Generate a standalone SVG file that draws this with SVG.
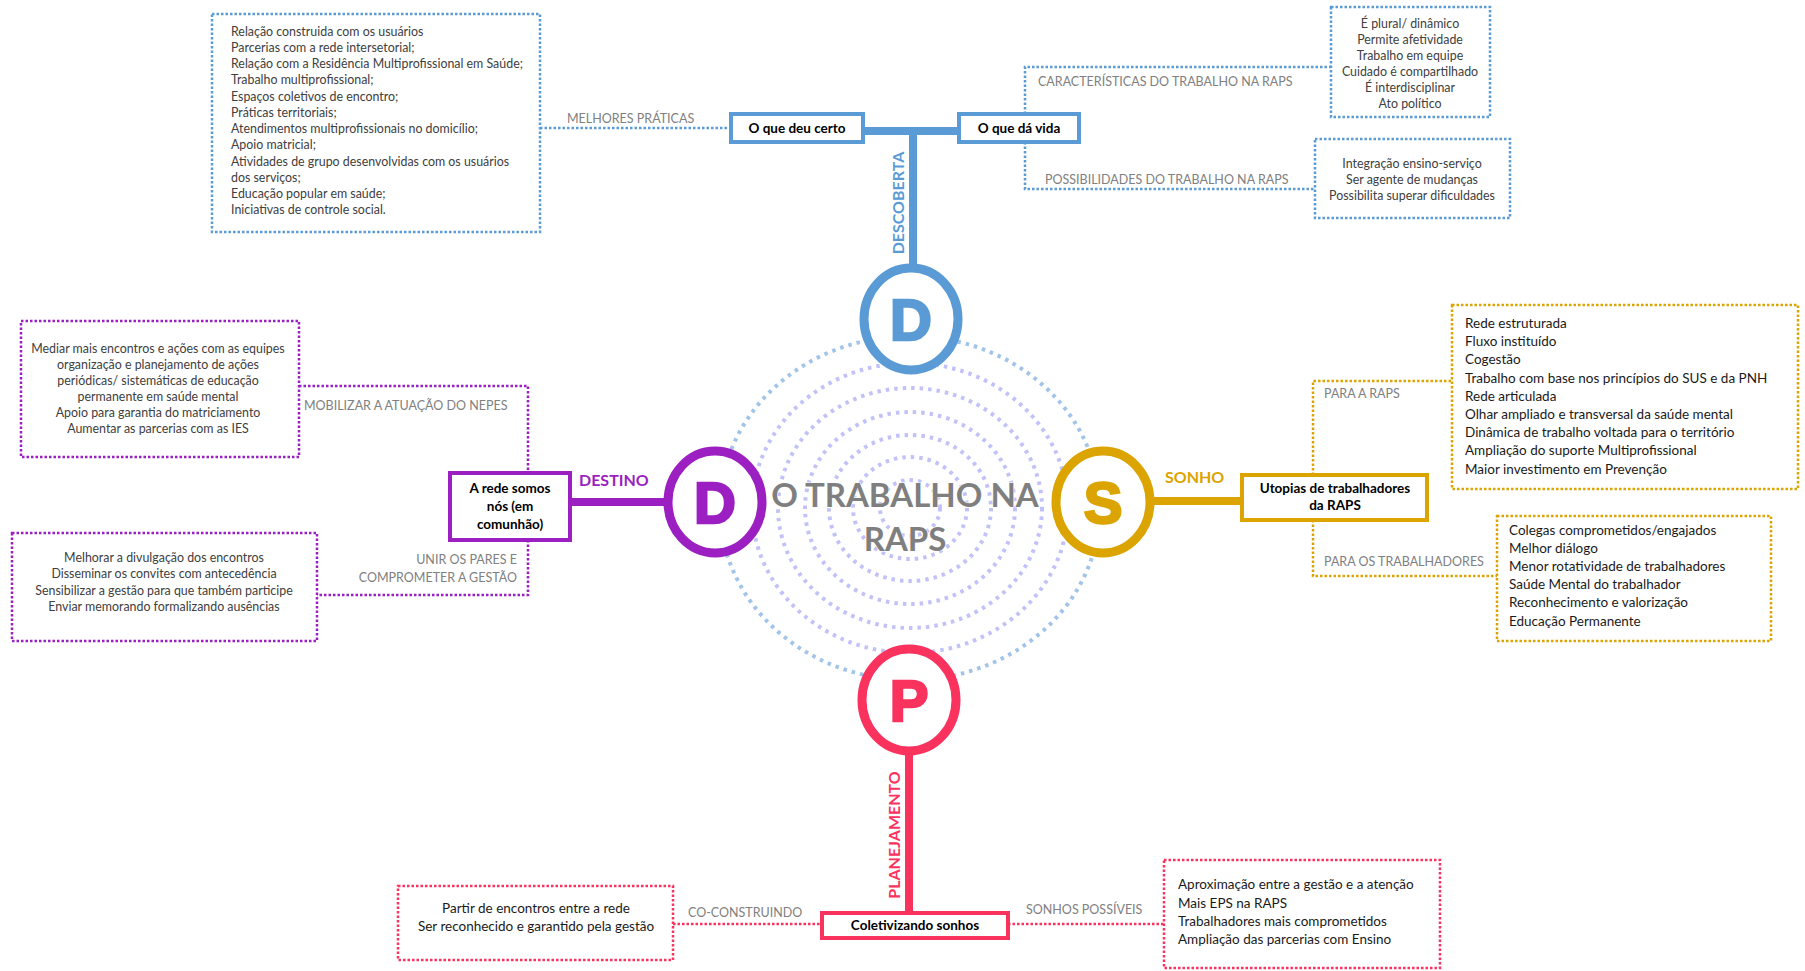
<svg xmlns="http://www.w3.org/2000/svg" width="1805" height="971" viewBox="0 0 1805 971">
<style>
.bg{fill:#ffffff}
.dotb{fill:none;stroke:#5b9bd5;stroke-width:2.5;stroke-dasharray:2.5 2}
.dotp{fill:none;stroke:#9b1fc1;stroke-width:2.5;stroke-dasharray:2.5 2}
.dotg{fill:none;stroke:#dba400;stroke-width:2.5;stroke-dasharray:2.5 2}
.dotr{fill:none;stroke:#f9325e;stroke-width:2.5;stroke-dasharray:2.5 2}
.ringb{fill:none;stroke:#a2c4e8;stroke-width:4;stroke-dasharray:3.5 5}
.ringl{fill:none;stroke:#c2c2f8;stroke-width:4;stroke-dasharray:3.5 5}
.nodeb{fill:#fff;stroke:#5b9bd5;stroke-width:4}
.nodep{fill:#fff;stroke:#9b1fc1;stroke-width:4}
.nodeg{fill:#fff;stroke:#dba400;stroke-width:4}
.noder{fill:#fff;stroke:#f9325e;stroke-width:4}
.thb{stroke:#5b9bd5;stroke-width:8}
.thp{stroke:#9b1fc1;stroke-width:8}
.thg{stroke:#dba400;stroke-width:8}
.thr{stroke:#f9325e;stroke-width:8}
.t{font-family:Lato,"Open Sans","Liberation Sans",sans-serif}
.sm{font-size:12.4px;fill:#404040}
.md{font-size:13.5px;fill:#1a1a1a}
.lab{font-size:12.5px;fill:#808080}
.nd{font-size:13.5px;font-weight:bold;fill:#000}
.big{font-family:"Liberation Sans",Arial,sans-serif;font-weight:bold;font-size:58px;text-anchor:middle}
.side{font-size:16px;font-weight:bold}
.mid{text-anchor:middle}
.end{text-anchor:end}
</style>
<rect class="bg" x="0" y="0" width="1805" height="971"/>

<g id="rings">
<ellipse class="ringb" cx="910" cy="508" rx="190" ry="172"/>
<ellipse class="ringl" cx="910" cy="508" rx="158" ry="145"/>
<ellipse class="ringl" cx="910" cy="508" rx="132" ry="120"/>
<ellipse class="ringl" cx="910" cy="508" rx="105" ry="96"/>
<ellipse class="ringl" cx="910" cy="508" rx="81" ry="73"/>
<ellipse class="ringl" cx="910" cy="508" rx="57" ry="51"/>
<ellipse class="ringl" cx="910" cy="508" rx="30" ry="28"/>
</g>

<g id="connectors">
<line class="dotb" x1="540" y1="128" x2="731" y2="128"/>
<line class="thb" x1="863" y1="131" x2="959" y2="131"/>
<line class="thb" x1="913" y1="131" x2="913" y2="270"/>
<path class="dotb" d="M1025,114 V67 H1331"/>
<path class="dotb" d="M1025,142 V189 H1315"/>
<path class="dotp" d="M299,386 H528 V473"/>
<path class="dotp" d="M528,540 V595 H317"/>
<line class="thp" x1="570" y1="502" x2="665" y2="502"/>
<line class="thg" x1="1154" y1="501" x2="1242" y2="501"/>
<path class="dotg" d="M1313,475 V381 H1452"/>
<path class="dotg" d="M1313,520 V576 H1497"/>
<line class="thr" x1="909" y1="750" x2="909" y2="913"/>
<line class="dotr" x1="673" y1="924" x2="822" y2="924"/>
<line class="dotr" x1="1008" y1="924" x2="1164" y2="924"/>
<text class="t lab" x="567" y="123">MELHORES PRÁTICAS</text>
<text class="t lab" x="1038" y="86">CARACTERÍSTICAS DO TRABALHO NA RAPS</text>
<text class="t lab" x="1045" y="184">POSSIBILIDADES DO TRABALHO NA RAPS</text>
<text class="t lab" x="304" y="410">MOBILIZAR A ATUAÇÃO DO NEPES</text>
<text class="t lab end" x="517" y="564">UNIR OS PARES E</text>
<text class="t lab end" x="517" y="582">COMPROMETER A GESTÃO</text>
<text class="t lab" x="1324" y="398">PARA A RAPS</text>
<text class="t lab" x="1324" y="566">PARA OS TRABALHADORES</text>
<text class="t lab" x="688" y="917">CO-CONSTRUINDO</text>
<text class="t lab" x="1026" y="914">SONHOS POSSÍVEIS</text>
<text class="t side mid" x="904" y="203" transform="rotate(-90 904 203)" fill="#5b9bd5">DESCOBERTA</text>
<text class="t side" x="579" y="486" fill="#9b1fc1">DESTINO</text>
<text class="t side" x="1165" y="483" fill="#dba400">SONHO</text>
<text class="t side mid" x="900" y="835" transform="rotate(-90 900 835)" fill="#f9325e">PLANEJAMENTO</text>
</g>

<g id="circle-descoberta">
<ellipse cx="911" cy="319" rx="47" ry="51" fill="#fff" stroke="#5b9bd5" stroke-width="9"/>
<text class="big" x="911" y="340" fill="#5b9bd5" stroke="#5b9bd5" stroke-width="2.5">D</text>
</g>
<g id="circle-destino">
<ellipse cx="715" cy="502" rx="47" ry="51" fill="#fff" stroke="#9b1fc1" stroke-width="9"/>
<text class="big" x="715" y="523" fill="#9b1fc1" stroke="#9b1fc1" stroke-width="2.5">D</text>
</g>
<g id="circle-sonho">
<ellipse cx="1103" cy="502" rx="47" ry="51" fill="#fff" stroke="#dba400" stroke-width="9"/>
<text class="big" x="1103" y="523" fill="#dba400" stroke="#dba400" stroke-width="2.5">S</text>
</g>
<g id="circle-planejamento">
<ellipse cx="909" cy="700" rx="47" ry="51" fill="#fff" stroke="#f9325e" stroke-width="9"/>
<text class="big" x="909" y="721" fill="#f9325e" stroke="#f9325e" stroke-width="2.5">P</text>
</g>

<g id="title">
<text x="905" y="507" text-anchor="middle" font-family="Lato,'Liberation Sans',sans-serif" font-weight="bold" font-size="33" fill="#7f7f7f" stroke="#fff" stroke-width="1" paint-order="stroke">O TRABALHO NA</text>
<text x="905" y="551" text-anchor="middle" font-family="Lato,'Liberation Sans',sans-serif" font-weight="bold" font-size="33" fill="#7f7f7f" stroke="#fff" stroke-width="1" paint-order="stroke">RAPS</text>
</g>

<g id="node-melhores">
<rect class="dotb" x="212" y="14" width="328" height="218"/>
<text class="t sm" x="231" y="36">Relação construida com os usuários</text>
<text class="t sm" x="231" y="52">Parcerias com a rede intersetorial;</text>
<text class="t sm" x="231" y="68">Relação com a Residência Multiprofissional em Saúde;</text>
<text class="t sm" x="231" y="84">Trabalho multiprofissional;</text>
<text class="t sm" x="231" y="101">Espaços coletivos de encontro;</text>
<text class="t sm" x="231" y="117">Práticas territoriais;</text>
<text class="t sm" x="231" y="133">Atendimentos multiprofissionais no domicílio;</text>
<text class="t sm" x="231" y="149">Apoio matricial;</text>
<text class="t sm" x="231" y="166">Atividades de grupo desenvolvidas com os usuários</text>
<text class="t sm" x="231" y="182">dos serviços;</text>
<text class="t sm" x="231" y="198">Educação popular em saúde;</text>
<text class="t sm" x="231" y="214">Iniciativas de controle social.</text>
</g>

<g id="node-deu-certo">
<rect class="nodeb" x="731" y="114" width="132" height="28"/>
<text class="t nd mid" x="797" y="133">O que deu certo</text>
</g>

<g id="node-da-vida">
<rect class="nodeb" x="959" y="114" width="120" height="28"/>
<text class="t nd mid" x="1019" y="133">O que dá vida</text>
</g>

<g id="node-caracteristicas">
<rect class="dotb" x="1331" y="7" width="159" height="110"/>
<text class="t sm mid" x="1410" y="28">É plural/ dinâmico</text>
<text class="t sm mid" x="1410" y="44">Permite afetividade</text>
<text class="t sm mid" x="1410" y="60">Trabalho em equipe</text>
<text class="t sm mid" x="1410" y="76">Cuidado é compartilhado</text>
<text class="t sm mid" x="1410" y="92">É interdisciplinar</text>
<text class="t sm mid" x="1410" y="108">Ato político</text>
</g>

<g id="node-possibilidades">
<rect class="dotb" x="1315" y="139" width="195" height="79"/>
<text class="t sm mid" x="1412" y="168">Integração ensino-serviço</text>
<text class="t sm mid" x="1412" y="184">Ser agente de mudanças</text>
<text class="t sm mid" x="1412" y="200">Possibilita superar dificuldades</text>
</g>

<g id="node-nepes">
<rect class="dotp" x="21" y="321" width="278" height="136"/>
<text class="t sm mid" x="158" y="353">Mediar mais encontros e ações com as equipes</text>
<text class="t sm mid" x="158" y="369">organização e planejamento de ações</text>
<text class="t sm mid" x="158" y="385">periódicas/ sistemáticas de educação</text>
<text class="t sm mid" x="158" y="401">permanente em saúde mental</text>
<text class="t sm mid" x="158" y="417">Apoio para garantia do matriciamento</text>
<text class="t sm mid" x="158" y="433">Aumentar as parcerias com as IES</text>
</g>

<g id="node-unir">
<rect class="dotp" x="12" y="533" width="305" height="108"/>
<text class="t sm mid" x="164" y="562">Melhorar a divulgação dos encontros</text>
<text class="t sm mid" x="164" y="578">Disseminar os convites com antecedência</text>
<text class="t sm mid" x="164" y="595">Sensibilizar a gestão para que também participe</text>
<text class="t sm mid" x="164" y="611">Enviar memorando formalizando ausências</text>
</g>

<g id="node-rede">
<rect class="nodep" x="450" y="473" width="120" height="67"/>
<text class="t nd mid" x="510" y="493">A rede somos</text>
<text class="t nd mid" x="510" y="511">nós (em</text>
<text class="t nd mid" x="510" y="529">comunhão)</text>
</g>

<g id="node-utopias">
<rect class="nodeg" x="1242" y="475" width="185" height="45"/>
<text class="t nd mid" x="1335" y="493">Utopias de trabalhadores</text>
<text class="t nd mid" x="1335" y="510">da RAPS</text>
</g>

<g id="node-para-raps">
<rect class="dotg" x="1452" y="305" width="346" height="184"/>
<text class="t md" x="1465" y="328">Rede estruturada</text>
<text class="t md" x="1465" y="346">Fluxo instituído</text>
<text class="t md" x="1465" y="364">Cogestão</text>
<text class="t md" x="1465" y="383">Trabalho com base nos princípios do SUS e da PNH</text>
<text class="t md" x="1465" y="401">Rede articulada</text>
<text class="t md" x="1465" y="419">Olhar ampliado e transversal da saúde mental</text>
<text class="t md" x="1465" y="437">Dinâmica de trabalho voltada para o território</text>
<text class="t md" x="1465" y="455">Ampliação do suporte Multiprofissional</text>
<text class="t md" x="1465" y="474">Maior investimento em Prevenção</text>
</g>

<g id="node-para-trabalhadores">
<rect class="dotg" x="1497" y="516" width="274" height="125"/>
<text class="t md" x="1509" y="535">Colegas comprometidos/engajados</text>
<text class="t md" x="1509" y="553">Melhor diálogo</text>
<text class="t md" x="1509" y="571">Menor rotatividade de trabalhadores</text>
<text class="t md" x="1509" y="589">Saúde Mental do trabalhador</text>
<text class="t md" x="1509" y="607">Reconhecimento e valorização</text>
<text class="t md" x="1509" y="626">Educação Permanente</text>
</g>

<g id="node-coletivizando">
<rect class="noder" x="822" y="913" width="186" height="25"/>
<text class="t nd mid" x="915" y="930">Coletivizando sonhos</text>
</g>

<g id="node-coconstruindo">
<rect class="dotr" x="398" y="886" width="275" height="74"/>
<text class="t md mid" x="536" y="913">Partir de encontros entre a rede</text>
<text class="t md mid" x="536" y="931">Ser reconhecido e garantido pela gestão</text>
</g>

<g id="node-sonhos-possiveis">
<rect class="dotr" x="1164" y="860" width="276" height="108"/>
<text class="t md" x="1178" y="889">Aproximação entre a gestão e a atenção</text>
<text class="t md" x="1178" y="908">Mais EPS na RAPS</text>
<text class="t md" x="1178" y="926">Trabalhadores mais comprometidos</text>
<text class="t md" x="1178" y="944">Ampliação das parcerias com Ensino</text>
</g>
</svg>
